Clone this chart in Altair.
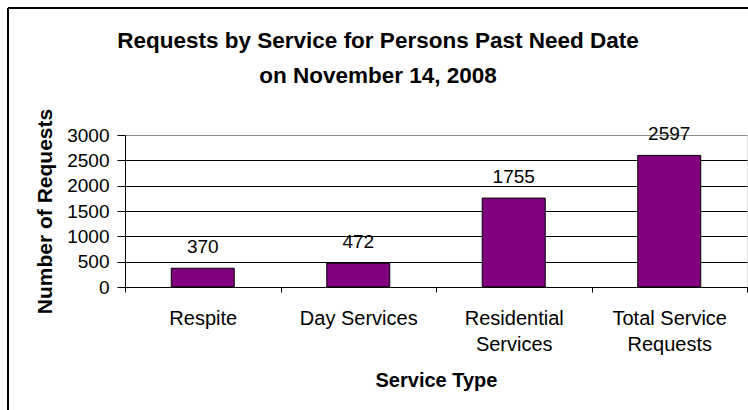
import altair as alt
import pandas as pd

categories = ["Respite", "Day Services", "Residential Services", "Total Service Requests"]
values = [370, 472, 1755, 2597]
label_lines = [["Respite"], ["Day Services"], ["Residential", "Services"], ["Total Service", "Requests"]]
y_ticks = [0, 500, 1000, 1500, 2000, 2500, 3000]

FONT = "Liberation Sans, Arial, sans-serif"

df = pd.DataFrame({"cat": categories, "val": values})

expr_parts = []
for cat, lines in zip(categories, label_lines):
    arr = "[" + ",".join("'" + l + "'" for l in lines) + "]"
    expr_parts.append(f"datum.label == '{cat}' ? {arr} : ")
label_expr = "".join(expr_parts) + "datum.label"

x = alt.X(
    "cat:N",
    sort=categories,
    scale=alt.Scale(paddingInner=0, paddingOuter=0),
    axis=alt.Axis(
        title="Service Type",
        labelAngle=0,
        tickBand="extent",
        domainColor="black",
        tickColor="black",
        tickSize=5,
        labelFont=FONT,
        labelFontSize=20,
        labelColor="black",
        labelPadding=16,
        labelLineHeight=26,
        labelExpr=label_expr,
        titleFont=FONT,
        titleFontSize=20,
        titleFontWeight="bold",
        titleColor="black",
        titlePadding=16,
        grid=False,
    ),
)

y = alt.Y(
    "val:Q",
    scale=alt.Scale(domain=[0, 3000], nice=False),
    axis=alt.Axis(
        values=y_ticks,
        format="d",
        labelOverlap=False,
        title="Number of Requests",
        grid=True,
        gridColor={"condition": {"test": "datum.value == 3000", "value": "#8c8c8c"}, "value": "black"},
        gridWidth=1,
        domainColor="black",
        tickColor="black",
        tickSize=8,
        labelFont=FONT,
        labelFontSize=19,
        labelColor="black",
        labelPadding=8,
        titleFont=FONT,
        titleFontSize=21,
        titleFontWeight="bold",
        titleColor="black",
        titlePadding=11,
    ),
)

bars = alt.Chart(df).mark_bar(
    color="#800080", stroke="black", strokeWidth=1, width=alt.RelativeBandSize(0.405)
).encode(x=x, y=y)

labels = alt.Chart(df).mark_text(
    baseline="alphabetic", dy=-15, fontSize=19, font=FONT, color="black"
).encode(x=x, y=y, text="val:Q")

frame_left = alt.Chart(df).mark_rule(color="black", strokeWidth=2).encode(
    x=alt.value(-117), y=alt.value(-127), y2=alt.value(290)
)
frame_top = alt.Chart(df).mark_rule(color="black", strokeWidth=2).encode(
    x=alt.value(-117), x2=alt.value(640), y=alt.value(-127)
)

chart = (
    alt.layer(bars, labels, frame_left, frame_top)
    .properties(
        width=622,
        height=152,
        autosize=alt.AutoSizeParams(type="none"),
        padding={"left": 125, "top": 135, "right": 1, "bottom": 123},
        title=alt.TitleParams(
            text=["Requests by Service for Persons Past Need Date", "on November 14, 2008"],
            font=FONT,
            fontSize=22.5,
            fontWeight="bold",
            color="black",
            anchor="middle",
            lineHeight=35,
            offset=0,
            dy=80,
            dx=-58,
        ),
    )
    .configure_view(stroke="#8c8c8c", strokeWidth=1)
    .configure(background="white")
)

chart.save("out.html", embed_options={"renderer": "svg", "actions": False})
